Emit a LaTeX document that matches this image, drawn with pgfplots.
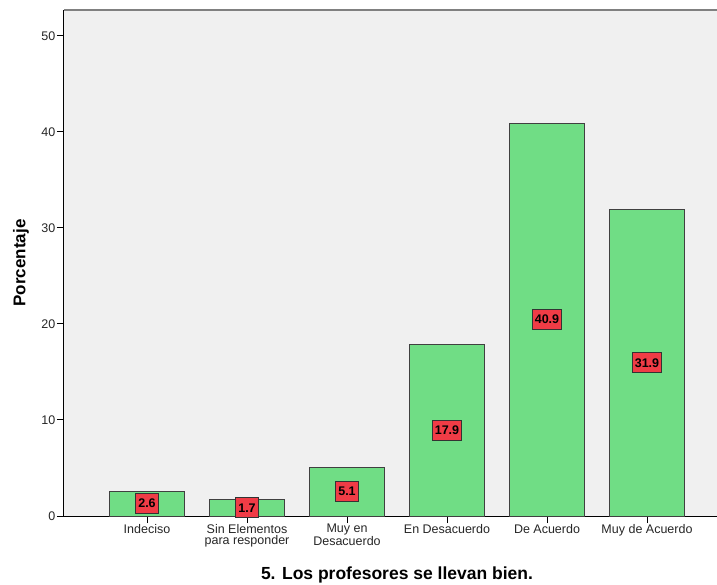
\documentclass[border=0pt]{standalone}
\usepackage{fontspec}
\setmainfont{Liberation Sans}
\usepackage{pgfplots}
\pgfplotsset{compat=1.18}

\definecolor{bgc}{HTML}{F0F0F0}
\definecolor{barc}{HTML}{70DD85}
\definecolor{labc}{HTML}{F03C46}
\definecolor{edgec}{HTML}{404040}

\begin{document}
\begin{tikzpicture}
\begin{axis}[
    scale only axis,
    width=653pt, height=506pt,
    xmin=-0.83, xmax=5.7,
    ymin=0, ymax=52.7,
    axis background/.style={fill=bgc},
    axis lines*=left,
    axis line style={black, line width=1pt, -},
    ytick={0,10,20,30,40,50},
    xtick={0,1,2,3,4,5},
    xticklabels={Indeciso, Sin Elementos\\para responder, Muy en\\Desacuerdo, En Desacuerdo, De Acuerdo, Muy de Acuerdo},
    tick align=outside,
    major tick length=7pt,
    tick style={black, line width=1pt},
    ticklabel style={font=\fontsize{12.5}{11.5}\selectfont, text=black!85},
    xticklabel style={align=center, inner sep=2pt, yshift=1pt},
    yticklabel style={inner sep=1.5pt},
    /pgf/number format/assume math mode=true,
    ylabel={Porcentaje},
    every axis y label/.style={at={(axis description cs:0,0.5)}, xshift=-43pt, rotate=90, anchor=center, font=\fontsize{17}{18}\selectfont\bfseries},
    clip=false,
]
\addplot[ybar, bar width=0.75, bar shift=0pt, fill=barc, draw=edgec, line width=0.8pt]
    coordinates {(0,2.6) (1,1.7) (2,5.1) (3,17.9) (4,40.9) (5,31.9)};
\addplot[draw=none, mark=none, point meta=explicit symbolic,
    nodes near coords,
    every node near coord/.style={anchor=center, fill=labc, draw=black!80, line width=0.8pt,
        inner xsep=2.5pt, inner ysep=2.5pt, minimum height=20pt,
        font=\fontsize{12.5}{13}\selectfont\bfseries, text=black}]
    coordinates {(0,1.3)[2.6] (1,0.85)[1.7] (2,2.55)[5.1] (3,8.95)[17.9] (4,20.45)[40.9] (5,15.95)[31.9]};
\draw[gray, line width=1.6pt] (rel axis cs:0,1) -- (rel axis cs:1,1);
\end{axis}
\node[font=\fontsize{17.5}{18}\selectfont\bfseries] at (333pt,-59pt) {5. Los profesores se llevan bien.};
\pgfresetboundingbox
\path[use as bounding box] (-64pt,-68pt) rectangle (653pt,516pt);
\end{tikzpicture}
\end{document}
